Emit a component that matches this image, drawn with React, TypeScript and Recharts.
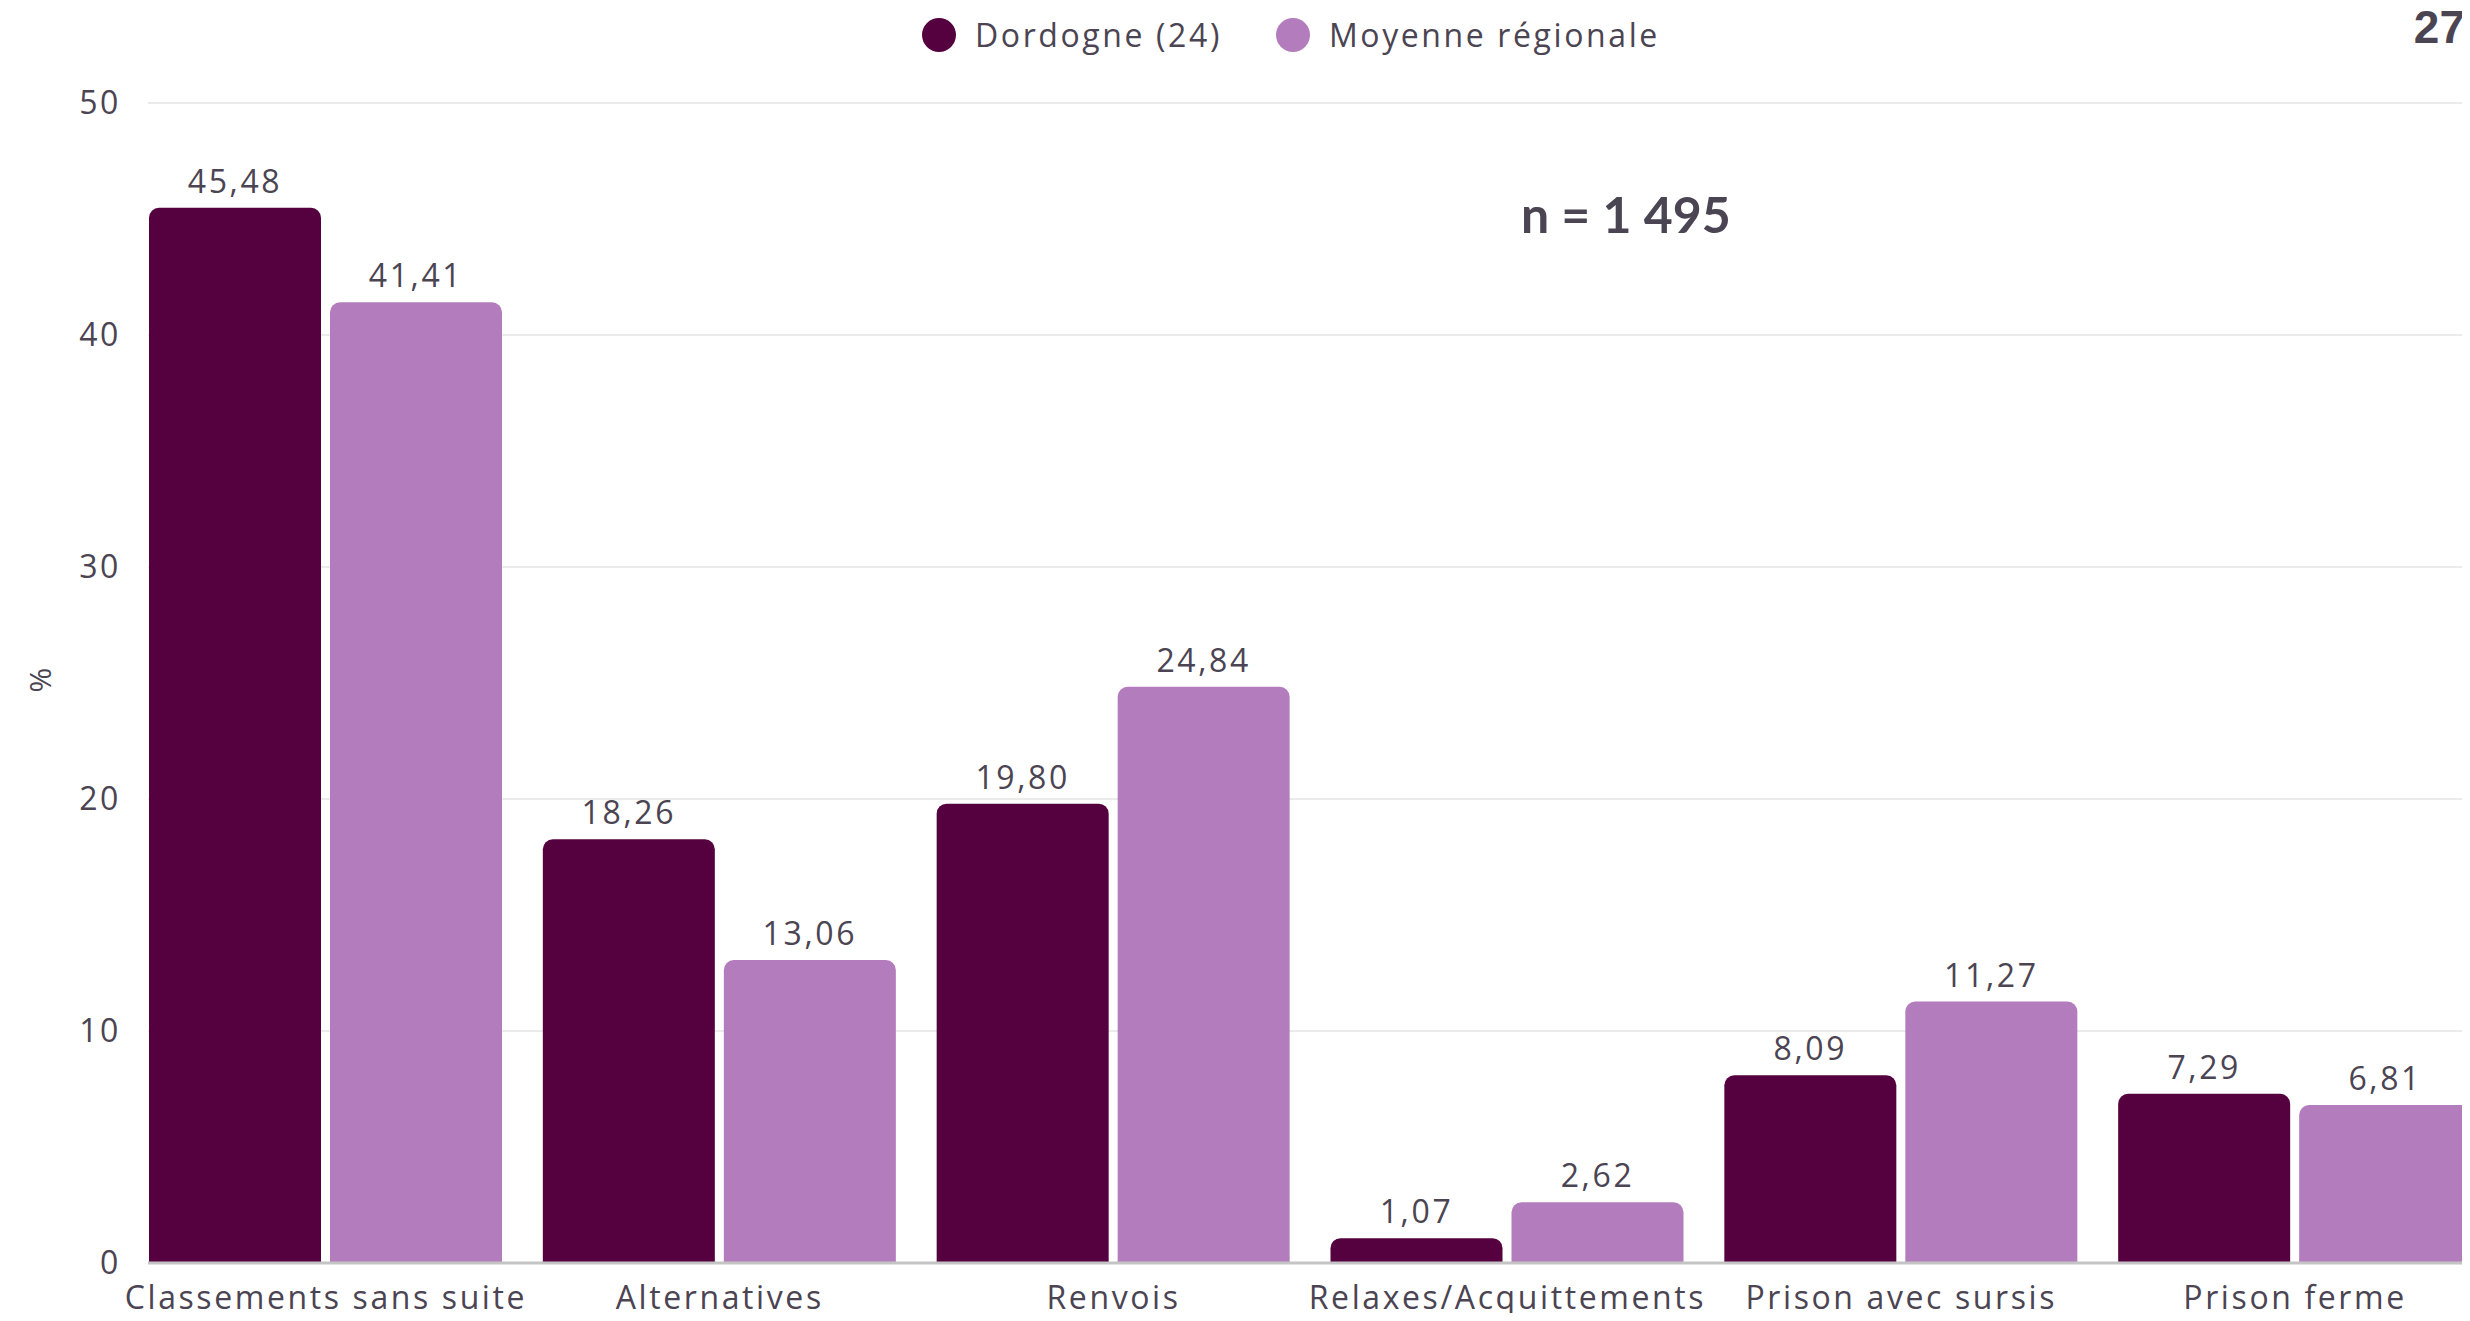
import React from 'react';
import { BarChart, Bar, XAxis, YAxis, CartesianGrid, LabelList } from 'recharts';

const categories = [
  'Classements sans suite',
  'Alternatives',
  'Renvois',
  'Relaxes/Acquittements',
  'Prison avec sursis',
  'Prison ferme',
];
const dordogne = [45.48, 18.26, 19.8, 1.07, 8.09, 7.29];
const moyenne = [41.41, 13.06, 24.84, 2.62, 11.27, 6.81];
const yTicks = [0, 10, 20, 30, 40, 50];

const DARK = '#55003f';
const LIGHT = '#b37cbc';
const TEXT = '#4b4452';
const FONT = '"Open Sans", "Noto Sans", sans-serif';
const SPACING = 2.6;

const data = categories.map((name, i) => ({ name, dordogne: dordogne[i], moyenne: moyenne[i] }));

const fmt = (v: any) => Number(v).toFixed(2).replace('.', ',');

const textStyle = { fill: TEXT, fontSize: 32, fontFamily: FONT, letterSpacing: SPACING };

const App: React.FC = () => {
  return (
    <div style={{ position: 'relative', width: 2470, height: 1321, overflow: 'hidden', margin: -8, background: '#fff', fontFamily: FONT }}>
      <BarChart
        width={2500}
        height={1321}
        data={data}
        margin={{ top: 103, right: 8, bottom: 0, left: 0 }}
        barSize={172}
        barGap={9}
      >
        <CartesianGrid vertical={false} stroke="#e4e4e4" strokeWidth={1.5} />
        <XAxis
          dataKey="name"
          height={58}
          padding={{ left: -19, right: 0 }}
          tickLine={false}
          tickSize={0}
          tickMargin={23}
          axisLine={{ stroke: '#c4c4c4', strokeWidth: 3 }}
          tick={textStyle}
          interval={0}
        />
        <YAxis
          width={148}
          domain={[0, 50]}
          ticks={yTicks}
          axisLine={false}
          tickLine={false}
          tickSize={0}
          tickMargin={27}
          tick={textStyle}
        />
        <Bar dataKey="dordogne" fill={DARK} radius={[10, 10, 0, 0]} isAnimationActive={false}>
          <LabelList dataKey="dordogne" position="top" offset={15} formatter={fmt} style={textStyle} />
        </Bar>
        <Bar dataKey="moyenne" fill={LIGHT} radius={[10, 10, 0, 0]} isAnimationActive={false}>
          <LabelList dataKey="moyenne" position="top" offset={15} formatter={fmt} style={textStyle} />
        </Bar>
      </BarChart>

      {/* legend */}
      <div style={{ position: 'absolute', top: 17, left: 922, display: 'flex', alignItems: 'center', color: TEXT, fontSize: 32, letterSpacing: SPACING, lineHeight: '36px' }}>
        <span style={{ width: 34, height: 34, borderRadius: '50%', background: DARK, display: 'inline-block' }} />
        <span style={{ marginLeft: 19 }}>Dordogne (24)</span>
        <span style={{ width: 34, height: 34, borderRadius: '50%', background: LIGHT, display: 'inline-block', marginLeft: 54 }} />
        <span style={{ marginLeft: 19 }}>Moyenne régionale</span>
      </div>

      {/* y axis unit */}
      <div style={{ position: 'absolute', left: 24, top: 664, width: 32, height: 32, color: TEXT, fontSize: 30, transform: 'rotate(-90deg)', textAlign: 'center', lineHeight: '32px' }}>%</div>

      {/* n */}
      <div style={{ position: 'absolute', left: 1521, top: 184, color: TEXT, fontSize: 50, fontWeight: 700, fontFamily: 'Lato, sans-serif', lineHeight: '60px' }}>n = 1 495</div>

      {/* page number */}
      <div style={{ position: 'absolute', right: 5, top: 0, color: TEXT, fontSize: 46, fontWeight: 700, fontFamily: '"Liberation Sans", Arial, sans-serif' }}>27</div>
    </div>
  );
};

export default App;
